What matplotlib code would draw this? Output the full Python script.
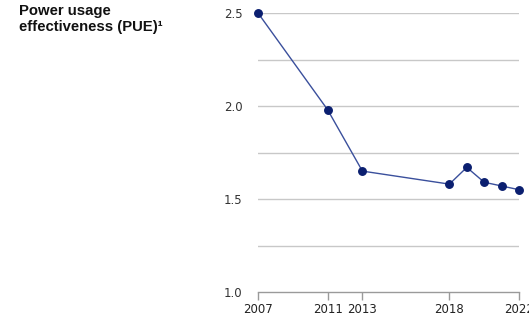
import matplotlib
matplotlib.use("Agg")
import matplotlib.pyplot as plt

years = [2007, 2011, 2013, 2018, 2019, 2020, 2021, 2022]
pue = [2.50, 1.98, 1.65, 1.58, 1.67, 1.59, 1.57, 1.55]
year_ticks = [2007, 2011, 2013, 2018, 2022]
pue_labels = [1.0, 1.5, 2.0, 2.5]
grid_levels = [1.25, 1.5, 1.75, 2.0, 2.25, 2.5]

plt.rcParams['font.family'] = ['Liberation Sans', 'DejaVu Sans']

fig = plt.figure(figsize=(5.29, 3.20), dpi=100)
ax = fig.add_axes([258 / 529, 1 - 292 / 320, 261 / 529, 279 / 320])

grid_color = "#c8c8c8"
for g in grid_levels:
    ax.axhline(g, color=grid_color, lw=1.0, zorder=1)

ax.plot(years, pue, color="#3a4f9c", lw=1.0, zorder=2, clip_on=False)
ax.plot(years, pue, "o", color="#0b1f70", ms=5.4, mec="#0b1f70", zorder=3, clip_on=False)

ax.set_xlim(2007, 2022)
ax.set_ylim(1.0, 2.5)
ax.set_xticks(year_ticks)
ax.set_xticklabels([str(y) for y in year_ticks], family="DejaVu Sans")
ax.set_yticks(pue_labels)
ax.set_yticklabels([f"{v:.1f}" for v in pue_labels], family="DejaVu Sans")

for s in ["top", "right", "left"]:
    ax.spines[s].set_visible(False)
ax.spines["bottom"].set_color("#9a9a9a")
ax.spines["bottom"].set_linewidth(1.0)

ax.tick_params(axis="x", direction="out", length=6, width=1.0, color="#9a9a9a",
               labelsize=8.5, labelcolor="#222222", pad=2)
ax.tick_params(axis="y", length=0, labelsize=8.5, labelcolor="#333333", pad=11)

fig.text(19 / 529, 1 - 4 / 320, "Power usage\neffectiveness (PUE)\u00b9",
         ha="left", va="top", fontsize=10.7, fontweight="bold", color="#111111",
         linespacing=1.2)

fig.savefig("out.png", dpi=100)
